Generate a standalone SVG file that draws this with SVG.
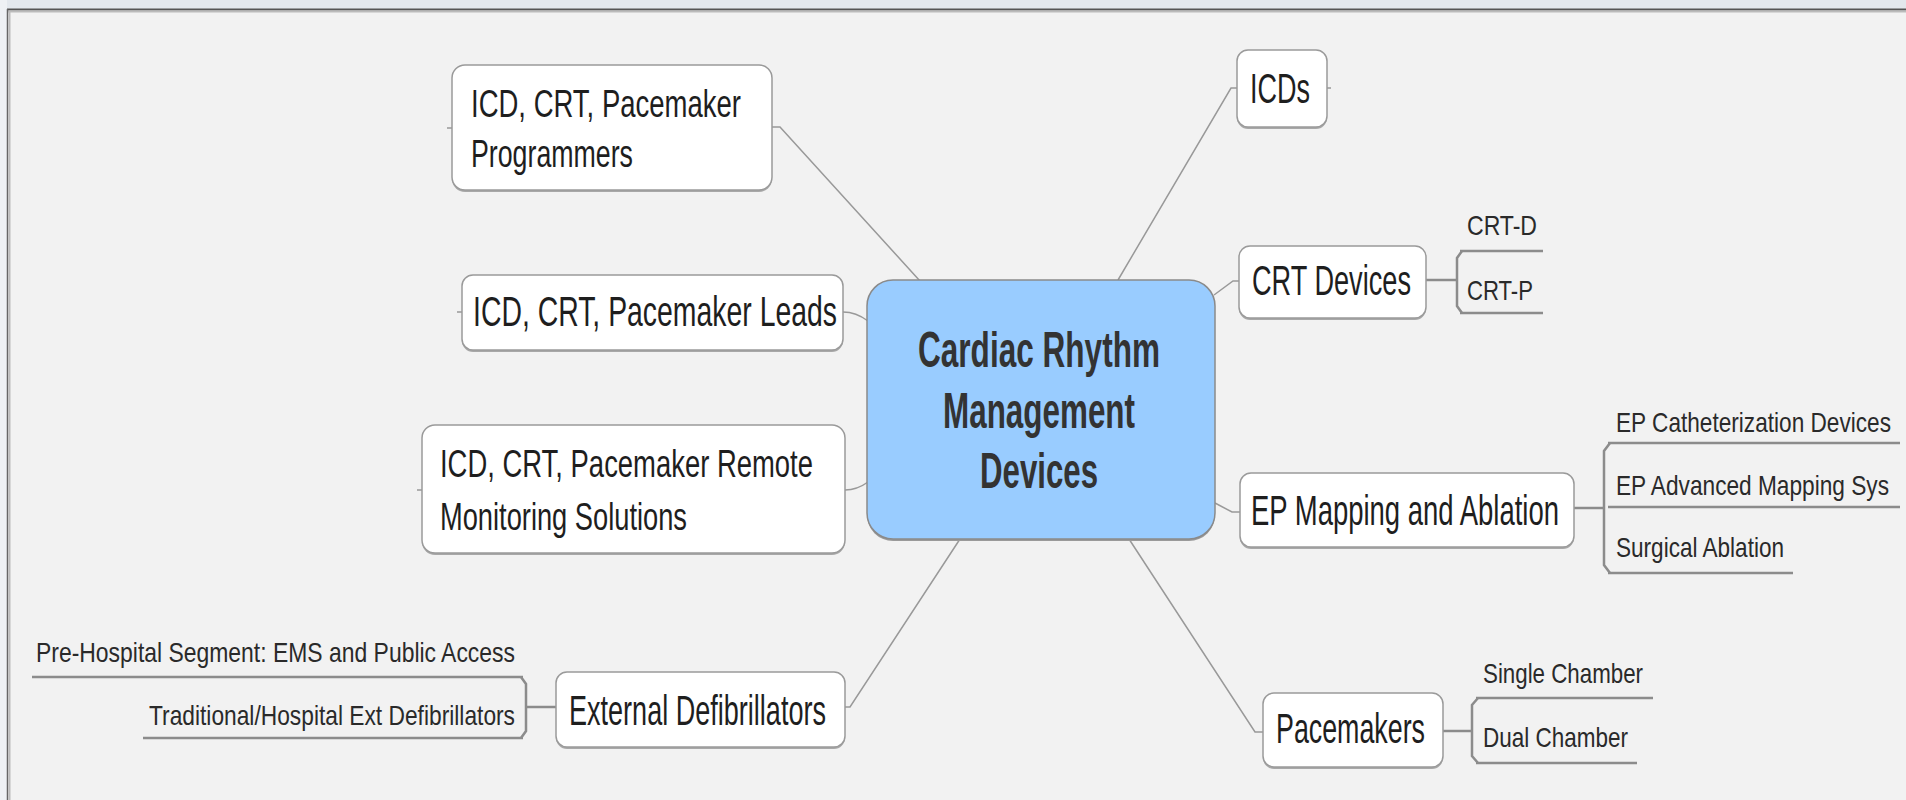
<svg xmlns="http://www.w3.org/2000/svg" width="1906" height="800" viewBox="0 0 1906 800">
<style>
.bx{fill:#fff;stroke:#9a9a9a;stroke-width:1.5}
.sh{fill:#a8a8a8}
.t1{font-family:"Liberation Sans",Arial,sans-serif;font-size:42px;fill:#1e1e1e}
.t2{font-family:"Liberation Sans",Arial,sans-serif;font-size:38px;fill:#1e1e1e}
.ts{font-family:"Liberation Sans",Arial,sans-serif;font-size:28px;fill:#2a2a2a}
.tc{font-family:"Liberation Sans",Arial,sans-serif;font-size:50px;font-weight:bold;fill:#333;text-anchor:middle}
.cn{fill:none;stroke:#999;stroke-width:1.5}
.br{fill:none;stroke:#8c8c8c;stroke-width:2.5}
</style>
<rect x="0" y="0" width="1906" height="800" fill="#f2f2f2"/>
<rect x="0" y="0" width="1906" height="9" fill="#e3e8ed"/>
<rect x="0" y="0" width="7" height="800" fill="#eef1f4"/>
<line x1="7" y1="9.5" x2="1906" y2="9.5" stroke="#555" stroke-width="2"/>
<line x1="7" y1="11.5" x2="1906" y2="11.5" stroke="#bbb" stroke-width="2"/>
<line x1="7.5" y1="9" x2="7.5" y2="800" stroke="#666" stroke-width="1.5"/>
<line x1="9.5" y1="11" x2="9.5" y2="800" stroke="#bbb" stroke-width="2"/>

<g id="connectors">
<path class="cn" d="M772,127 H780 L920,281"/>
<path class="cn" d="M843,312 Q856,312 868,321"/>
<path class="cn" d="M845,490 Q857,490 868,482"/>
<path class="cn" d="M845,707 H850 L960,539"/>
<path class="cn" d="M1118,280 L1231,88 H1237"/>
<path class="cn" d="M1327,88 H1331"/>
<path class="cn" d="M1214,295 L1233,281 H1239"/>
<path class="cn" d="M1215,503 L1232,512 H1240"/>
<path class="cn" d="M1129,539 L1255,732 H1263"/>
<path class="cn" d="M447,128 H452"/>
<path class="cn" d="M457,312 H462"/>
<path class="cn" d="M417,490 H422"/>
<path class="br" d="M1426,280 H1456"/>
<path class="br" d="M1462,251 L1457,258 V306 L1462,313"/>
<path class="br" d="M1460,251 H1543 M1460,313 H1543"/>
<path class="br" d="M556,707 H527"/>
<path class="br" d="M521,677 L526,684 V731 L521,738"/>
<path class="br" d="M32,677 H523 M143,738 H523"/>
<path class="br" d="M1574,508 H1604"/>
<path class="br" d="M1610,443 L1604,451 V565 L1610,573"/>
<path class="br" d="M1608,443 H1900 M1608,507 H1900 M1608,573 H1793"/>
<path class="br" d="M1443,731 H1472"/>
<path class="br" d="M1478,698 L1472,705 V756 L1478,763"/>
<path class="br" d="M1476,698 H1653 M1476,763 H1637"/>
</g>

<g id="central">
<rect x="867" y="282" width="348" height="259" rx="26" fill="#9a9a9a"/>
<rect x="867" y="280" width="348" height="259" rx="26" fill="#99ccff" stroke="#8a8a8a" stroke-width="1.5"/>
<text class="tc" x="1039" y="367" textLength="242" lengthAdjust="spacingAndGlyphs">Cardiac Rhythm</text>
<text class="tc" x="1039" y="428" textLength="192" lengthAdjust="spacingAndGlyphs">Management</text>
<text class="tc" x="1039" y="488" textLength="118" lengthAdjust="spacingAndGlyphs">Devices</text>
</g>

<g id="programmers">
<rect class="sh" x="452" y="67" width="320" height="125" rx="13"/>
<rect class="bx" x="452" y="65" width="320" height="125" rx="13"/>
<text class="t2" x="471" y="117" textLength="270" lengthAdjust="spacingAndGlyphs">ICD, CRT, Pacemaker</text>
<text class="t2" x="471" y="167" textLength="162" lengthAdjust="spacingAndGlyphs">Programmers</text>
</g>

<g id="leads">
<rect class="sh" x="462" y="277" width="381" height="75" rx="11"/>
<rect class="bx" x="462" y="275" width="381" height="75" rx="11"/>
<text class="t1" x="473" y="326" textLength="364" lengthAdjust="spacingAndGlyphs">ICD, CRT, Pacemaker Leads</text>
</g>

<g id="remote">
<rect class="sh" x="422" y="427" width="423" height="128" rx="13"/>
<rect class="bx" x="422" y="425" width="423" height="128" rx="13"/>
<text class="t2" x="440" y="477" textLength="373" lengthAdjust="spacingAndGlyphs">ICD, CRT, Pacemaker Remote</text>
<text class="t2" x="440" y="530" textLength="247" lengthAdjust="spacingAndGlyphs">Monitoring Solutions</text>
</g>

<g id="external">
<rect class="sh" x="556" y="674" width="289" height="75" rx="11"/>
<rect class="bx" x="556" y="672" width="289" height="75" rx="11"/>
<text class="t1" x="569" y="725" textLength="257" lengthAdjust="spacingAndGlyphs">External Defibrillators</text>
</g>
<g id="prehospital">
<text class="ts" x="36" y="662" textLength="479" lengthAdjust="spacingAndGlyphs">Pre-Hospital Segment: EMS and Public Access</text>
</g>
<g id="traditional">
<text class="ts" x="149" y="725" textLength="366" lengthAdjust="spacingAndGlyphs">Traditional/Hospital Ext Defibrillators</text>
</g>

<g id="icds">
<rect class="sh" x="1237" y="52" width="90" height="77" rx="11"/>
<rect class="bx" x="1237" y="50" width="90" height="77" rx="11"/>
<text class="t1" x="1250" y="103" textLength="60" lengthAdjust="spacingAndGlyphs">ICDs</text>
</g>

<g id="crt">
<rect class="sh" x="1239" y="248" width="187" height="72" rx="11"/>
<rect class="bx" x="1239" y="246" width="187" height="72" rx="11"/>
<text class="t1" x="1252" y="295" textLength="159" lengthAdjust="spacingAndGlyphs">CRT Devices</text>
</g>
<g id="crtd"><text class="ts" x="1467" y="235" textLength="70" lengthAdjust="spacingAndGlyphs">CRT-D</text></g>
<g id="crtp"><text class="ts" x="1467" y="300" textLength="66" lengthAdjust="spacingAndGlyphs">CRT-P</text></g>

<g id="ep">
<rect class="sh" x="1240" y="475" width="334" height="74" rx="11"/>
<rect class="bx" x="1240" y="473" width="334" height="74" rx="11"/>
<text class="t1" x="1251" y="525" textLength="308" lengthAdjust="spacingAndGlyphs">EP Mapping and Ablation</text>
</g>
<g id="epcath"><text class="ts" x="1616" y="432" textLength="275" lengthAdjust="spacingAndGlyphs">EP Catheterization Devices</text></g>
<g id="epadv"><text class="ts" x="1616" y="495" textLength="273" lengthAdjust="spacingAndGlyphs">EP Advanced Mapping Sys</text></g>
<g id="surgical"><text class="ts" x="1616" y="557" textLength="168" lengthAdjust="spacingAndGlyphs">Surgical Ablation</text></g>

<g id="pacemakers">
<rect class="sh" x="1263" y="695" width="180" height="74" rx="11"/>
<rect class="bx" x="1263" y="693" width="180" height="74" rx="11"/>
<text class="t1" x="1276" y="743" textLength="149" lengthAdjust="spacingAndGlyphs">Pacemakers</text>
</g>
<g id="single"><text class="ts" x="1483" y="683" textLength="160" lengthAdjust="spacingAndGlyphs">Single Chamber</text></g>
<g id="dual"><text class="ts" x="1483" y="747" textLength="145" lengthAdjust="spacingAndGlyphs">Dual Chamber</text></g>
</svg>
